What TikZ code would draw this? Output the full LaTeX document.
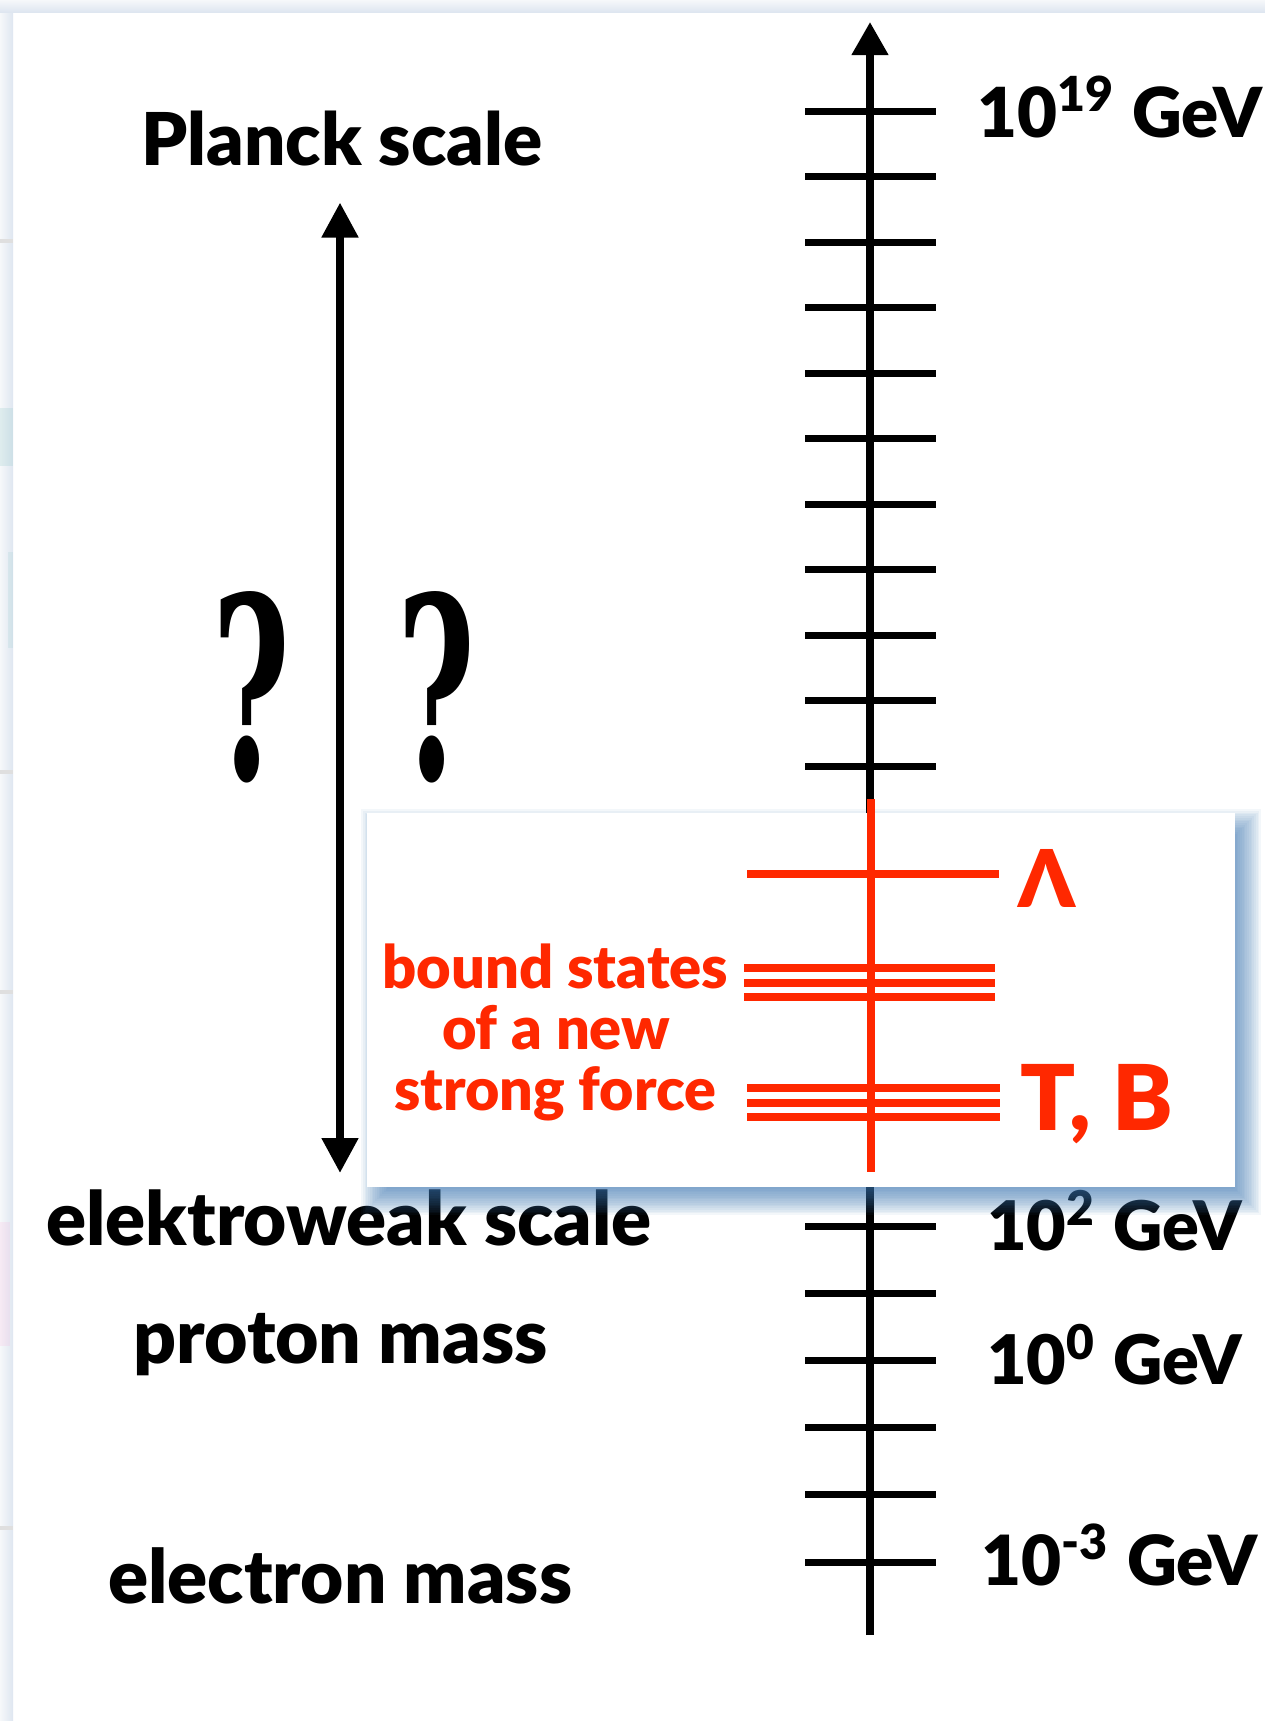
\documentclass[tikz,border=0pt]{standalone}
\usepackage{fontspec}
\setmainfont{Lato}[BoldFont={Lato Black}]
\newfontfamily\qfont{DejaVu Serif}
\usetikzlibrary{arrows.meta}
\definecolor{tred}{RGB}{255,40,0}
\definecolor{shcol}{RGB}{60,120,180}
\definecolor{stripc}{RGB}{222,230,240}
\definecolor{stripl}{RGB}{246,248,250}
\begin{document}
\begin{tikzpicture}[x=1pt,y=-1pt,
  lbl/.style={inner sep=0pt, anchor=base west, font=\bfseries},
  redlbl/.style={lbl, text=tred},
  qlbl/.style={inner sep=0pt, anchor=south, font=\qfont\bfseries},
  axisline/.style={line width=7.5pt, black},
  tickln/.style={line width=7pt, black},
  redln/.style={line width=8pt, tred},
  bigtip/.style={-{Triangle[length=33pt,width=35pt]}},
  dbltip/.style={{Triangle[length=35pt,width=35pt]}-{Triangle[length=35pt,width=35pt]}},
]
\useasboundingbox (0,0) rectangle (1265,1721);
\fill[white] (0,0) rectangle (1265,1721);
% screenshot frame strips
\shade[left color=stripl, right color=stripc] (0,0) rectangle (13,1721);
\shade[top color=stripl, bottom color=stripc] (0,0) rectangle (1265,12);
\fill[gray!25] (0,239) rectangle (13,243);
\fill[gray!25] (0,770) rectangle (13,774);
\fill[gray!25] (0,990) rectangle (13,994);
\fill[gray!25] (0,1526) rectangle (13,1530);
\fill[teal!40, opacity=0.25] (0,408) rectangle (13,466);
\fill[teal!40, opacity=0.2] (8,552) rectangle (13,648);
\fill[magenta!30, opacity=0.2] (0,1222) rectangle (10,1346);

% main axis
\coordinate (axbot) at (870,1635);
\coordinate (axtop) at (870,22);
\draw[axisline, bigtip] (axbot) -- (axtop);
\foreach \k in {0,...,10}{
  \pgfmathsetmacro\yy{111.5+65.45*\k}
  \draw[tickln] (805,\yy) -- (936,\yy);
}
\foreach \k in {1,...,6}{
  \pgfmathsetmacro\yy{766+65.7*\k}
  \draw[tickln] (805,\yy) -- (936,\yy);
}
\foreach \k in {0,...,5}{
  \pgfmathsetmacro\yy{1226+67.2*\k}
  \draw[tickln] (805,\yy) -- (936,\yy);
}

% energy labels
\node[lbl] (e19) at (977,137) {\resizebox{285pt}{!}{10\textsuperscript{19} GeV}};
\node[lbl] (e2) at (987,1250) {\resizebox{255pt}{!}{10\textsuperscript{2} GeV}};
\node[lbl] (e0) at (987,1384) {\resizebox{255pt}{!}{10\textsuperscript{0} GeV}};
\node[lbl] (em3) at (981,1585) {\resizebox{276pt}{!}{10\textsuperscript{-3} GeV}};

% scale labels
\node[lbl] (planck) at (141,165) {\resizebox{401pt}{!}{Planck scale}};
\node[lbl] (ew) at (46,1245) {\resizebox{605pt}{!}{elektroweak scale}};
\node[lbl] (proton) at (133,1363) {\resizebox{415pt}{!}{proton mass}};
\node[lbl] (electron) at (108,1603) {\resizebox{464pt}{!}{electron mass}};

% double arrow and question marks
\coordinate (la) at (340,202.5);
\coordinate (lb) at (340,1173);
\draw[line width=8pt, dbltip] (lb) -- (la);
\node[qlbl] (q1) at (251,783) {\resizebox{78pt}{188pt}{?}};
\node[qlbl] (q2) at (436,783) {\resizebox{78pt}{188pt}{?}};

% shadowed box
\foreach \i in {1,...,16}{
  \pgfmathsetmacro\e{-12+1.75*\i}
  \fill[shcol, opacity=0.06] (367+10-\e,813+12-\e) rectangle (1235+10+\e,1187+12+\e);
}
\fill[white] (367,813) rectangle (1235,1187);

% red strong-sector part
\coordinate (rtop) at (870.7,799);
\coordinate (rbot) at (870.7,1172);
\draw[redln] (rtop) -- (rbot);
\draw[redln] (747,874) -- (999,874);
\foreach \yy in {968,982.5,997}{
  \draw[redln] (744,\yy) -- (995,\yy);
}
\foreach \yy in {1088,1102.5,1117}{
  \draw[redln] (747,\yy) -- (1000,\yy);
}
\node[redlbl] (lam) at (1018,907) {\resizebox{57pt}{58pt}{Λ}};
\node[redlbl] (tb) at (1020,1130) {\resizebox{153pt}{!}{T, B}};
\node[redlbl] (b1) at (382,988) {\resizebox{346pt}{!}{bound states}};
\node[redlbl] (b2) at (442,1049) {\resizebox{228pt}{!}{of a new}};
\node[redlbl] (b3) at (394,1110) {\resizebox{322pt}{!}{strong force}};
\end{tikzpicture}
\end{document}
